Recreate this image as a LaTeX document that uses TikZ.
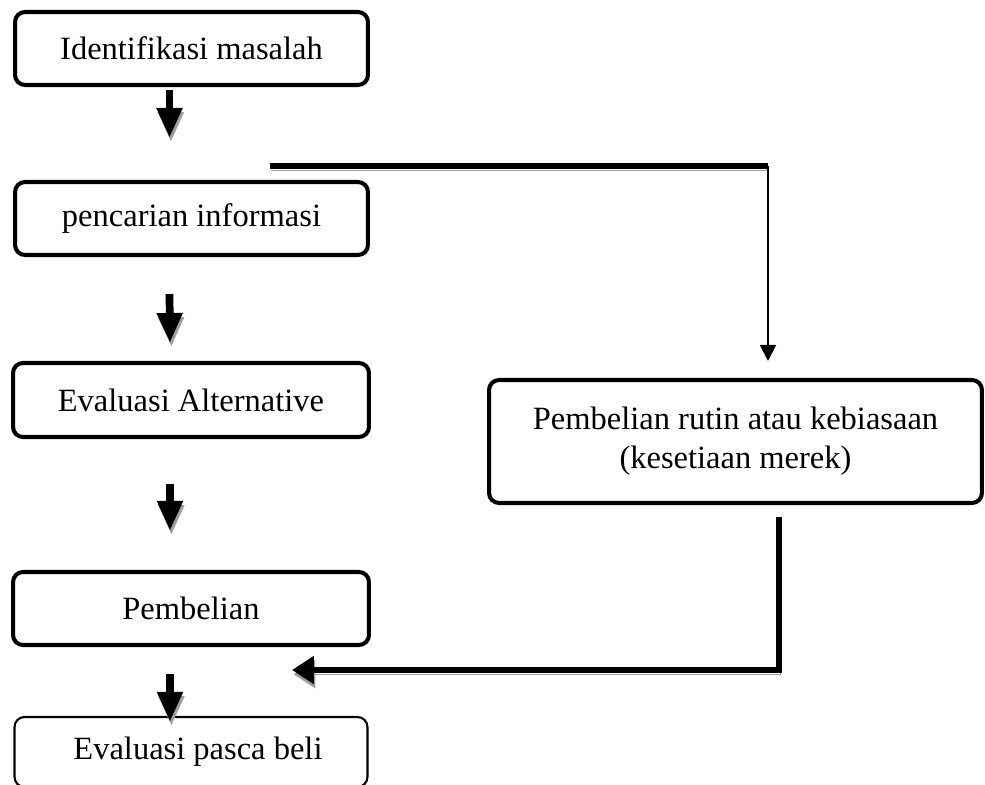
\documentclass[tikz,border=0pt]{standalone}
\usepackage{fontspec}
\setmainfont{Liberation Serif}
\usetikzlibrary{calc}
\usetikzlibrary{arrows.meta}

\begin{document}
\begin{tikzpicture}[x=0.02cm, y=0.02cm,
			font=\fontsize{18.5}{22}\selectfont,
			stage/.style={draw, line width=2.3pt, rounded corners=0.2cm, inner sep=0pt, minimum width=7.06cm, minimum height=1.46cm},
			shade/.style={preaction={draw=black!38, transform canvas={shift={(0.8pt,-2.4pt)}}}},
			bigarrow/.style={shade, line width=4.4pt, -{Triangle[width=0.48cm, length=0.6cm]}},
			longarrow/.style={shade, line width=3.7pt, -{Triangle[width=0.54cm, length=0.44cm]}},
			thickline/.style={shade, line width=3.7pt},
			thinarrow/.style={line width=1.1pt, -{Triangle[width=0.32cm, length=0.32cm]}}]
			\clip (0,0) rectangle (985,785);

			\node[stage] (masalah) at (191.5,736.5) {Identifikasi masalah};
			\node[stage] (informasi) at (191.5,566.5) {pencarian informasi};
			\node[stage, minimum width=7.12cm, minimum height=1.48cm] (alternatif) at (191,385) {Evaluasi Alternative};
			\node[stage, minimum width=7.12cm] (pembelian) at (191,176.5) {Pembelian};
			\node[stage, line width=1.2pt, minimum height=1.4cm] (pasca) at (191,33) {\hspace{0.28cm}Evaluasi pasca beli};
			\node[stage, minimum width=9.86cm, minimum height=2.46cm, align=center] (rutin) at (735.5,343.5) {Pembelian rutin atau kebiasaan\\(kesetiaan merek)};

			\draw[bigarrow]($(masalah.south)+(-22,-3)$)--($(informasi.north)+(-22,42)$);
			\draw[bigarrow]($(informasi.south)+(-22,-37)$)--($(alternatif.north)+(-21,18)$);
			\draw[bigarrow]($(alternatif.south)+(-21,-45)$)--($(pembelian.north)+(-21,39)$);
			\draw[bigarrow]($(pembelian.south)+(-21,-27)$)--($(pasca.north)+(-21,-6)$);

			\coordinate (belok) at ($(informasi.north)+(576.5,14)$);
			\draw[thickline]($(informasi.north)+(78,14)$)--(belok);
			\draw[thinarrow](belok)--($(rutin.north)+(32.5,17)$);

			\draw[longarrow]($(rutin.south)+(43.5,-12)$)|-($(pembelian.south east)+(-79,-23)$);
		\end{tikzpicture}
\end{document}
